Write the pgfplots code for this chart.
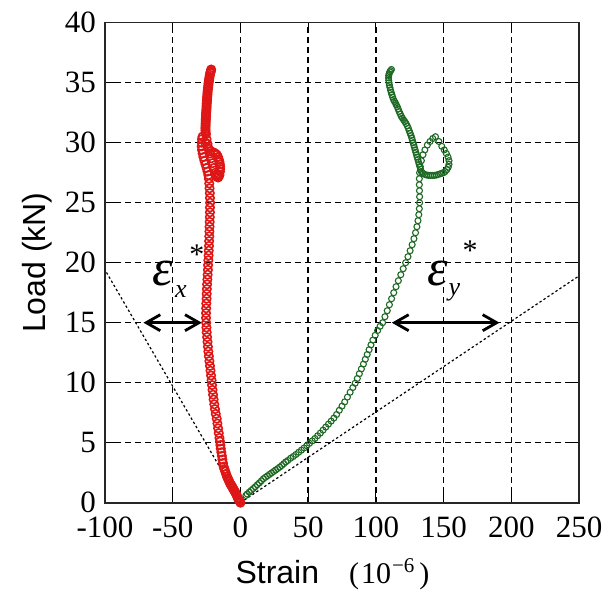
\documentclass[border=0pt]{standalone}
\usepackage{fontspec}
\setmainfont{Liberation Serif}
\setsansfont{Liberation Sans}
\usepackage{pgfplots}
\pgfplotsset{compat=1.18}
\usetikzlibrary{arrows.meta}
\definecolor{myred}{RGB}{222,22,22}
\definecolor{mygreen}{RGB}{30,105,35}
\begin{document}
\begin{tikzpicture}
\begin{axis}[name=ax, scale only axis, width=237pt, height=240pt,
 xmin=-100,xmax=250,ymin=0,ymax=40,
 xtick={-100,-50,0,50,100,150,200,250},
 xticklabels={-100,-50,0,50,100,150,200,250},
 ytick={0,5,10,15,20,25,30,35,40},
 yticklabels={0,5,10,15,20,25,30,35,40},
 tick align=inside, major tick length=5pt,
 tick style={black, line width=0.6pt},
 axis line style={line width=0.8pt, black!85},
 grid=major, major grid style={black, line width=0.65pt, dash pattern=on 3pt off 2pt},
 ticklabel style={font=\fontsize{15.5}{18}\selectfont},
 xticklabel style={yshift=-3.5pt},
 yticklabel style={xshift=-1pt},
]
% dotted reference lines
\addplot[black, line width=0.6pt, dash pattern=on 1.2pt off 1.2pt] coordinates {(0,0) (-100,19.4)};
\addplot[black, line width=0.6pt, dash pattern=on 1.2pt off 1.2pt] coordinates {(0,0) (250,18.9)};
% red series (eps_x)
\addplot[only marks, mark=o, mark size=2.1pt, mark options={myred, line width=0.8pt}] coordinates {
(0,0) (-0.5,0.1) (-1,0.2) (-1.5,0.3) (-2,0.4) (-2.5,0.55) (-3,0.7) (-3.5,0.8) (-4,0.9) (-4.5,1.0)
(-5,1.1) (-5.5,1.2) (-6,1.3) (-6.5,1.4) (-7,1.5) (-7.6,1.6) (-8.2,1.75) (-8.8,1.9) (-9.4,2.05) (-10,2.2)
(-10.6,2.4) (-11.2,2.6) (-11.8,2.8) (-12.4,3.0) (-12.9,3.3) (-13.3,3.6) (-13.7,3.9) (-14.1,4.2) (-14.5,4.5) (-14.8,4.8)
(-15.1,5.1) (-15.5,5.4) (-16,5.8) (-16.5,6.2) (-17,6.6) (-17.5,7.0) (-18.2,7.4) (-18.8,7.8) (-19.3,8.2) (-19.8,8.6)
(-20.2,9.0) (-20.6,9.4) (-21,9.8) (-21.3,10.2) (-21.7,10.6) (-22.1,11.0) (-22.5,11.4) (-22.9,11.8) (-23.3,12.2) (-23.7,12.6)
(-24,13.0) (-24.3,13.4) (-24.6,13.8) (-24.9,14.2) (-25.1,14.6) (-25.3,15.0) (-25.4,15.4) (-25.4,15.8) (-25.3,16.2) (-25.2,16.6)
(-25.0,17.0) (-24.9,17.4) (-24.8,17.8) (-24.6,18.2) (-24.4,18.6) (-24.2,19.0) (-24.0,19.4) (-23.9,19.8) (-23.7,20.2) (-23.5,20.6)
(-23.4,21.0) (-23.2,21.4) (-23.1,21.8) (-23.0,22.2) (-22.9,22.6) (-22.8,23.0) (-22.7,23.4) (-22.6,23.8) (-22.5,24.2) (-22.5,24.6)
(-22.4,25.0) (-22.5,25.4) (-22.6,25.8) (-22.8,26.2) (-23.0,26.6) (-23.3,27.0) (-23.7,27.3) (-24.3,27.6) (-25.0,27.9) (-25.8,28.2)
(-26.6,28.5) (-27.3,28.8) (-27.9,29.1) (-28.4,29.4) (-28.6,29.7) (-28.6,30.0) (-28.4,30.3) (-28.0,30.5)
(-26,30.0) (-24,29.6) (-22,29.3) (-20,29.2) (-18.5,29.1) (-17.5,29.0) (-16.5,28.8) (-16,28.6) (-15.5,28.4) (-15.2,28.2)
(-15,28.0) (-15,27.8) (-15.1,27.6) (-15.5,27.3) (-16,27.2) (-16.5,27.1) (-17,27.15) (-17.5,27.2) (-18,27.35) (-18.5,27.5)
(-19.5,27.9) (-20.5,28.3) (-21.5,28.7) (-22.5,29.1) (-23.5,29.5) (-24.3,29.9) (-25,30.3) (-25.5,30.7)
(-25.7,30.85) (-25.8,31.0) (-25.8,31.15) (-25.8,31.3) (-25.7,31.45) (-25.7,31.6) (-25.6,31.75) (-25.6,31.9) (-25.5,32.05) (-25.4,32.2)
(-25.4,32.35) (-25.3,32.5) (-25.2,32.65) (-25.1,32.8) (-25.0,32.95) (-25.0,33.1) (-24.9,33.25) (-24.8,33.4) (-24.7,33.55) (-24.6,33.7)
(-24.5,33.85) (-24.4,34.0) (-24.3,34.15) (-24.2,34.3) (-24.0,34.45) (-23.9,34.6) (-23.7,34.75) (-23.6,34.9) (-23.4,35.05) (-23.2,35.2)
(-23.0,35.35) (-22.8,35.5) (-22.6,35.65) (-22.3,35.8) (-22.0,35.9) (-21.8,36.0) (-21.6,36.1)
};
% green series (eps_y)
\addplot[only marks, mark=o, mark size=1.5pt, mark options={mygreen, line width=0.55pt}] coordinates {
(4,0.6) (5,0.72) (6.5,0.88) (8,1.03) (9.5,1.18) (11,1.33) (12.5,1.5) (14,1.65) (15.5,1.82) (17,2.0)
(18.5,2.12) (20,2.24) (21.5,2.36) (23,2.48) (24.5,2.6) (26,2.72) (27.5,2.84) (29,2.96) (30.5,3.1) (32,3.25)
(33.5,3.4) (35,3.52) (37,3.7) (39,3.85) (41,4.02) (43,4.2) (45,4.38) (47,4.56) (49,4.75) (51,4.95)
(53,5.15) (55,5.35) (57,5.58) (59,5.8) (61,6.05) (63,6.3) (65,6.55) (67,6.8) (69,7.05) (71,7.35)
(73,7.7) (75,8.05) (77,8.4) (79,8.8) (81,9.2) (83,9.6) (84.7,9.95) (86.3,10.35) (87.8,10.75) (89.3,11.15)
(90.8,11.55) (92.2,11.95) (93.6,12.35) (95,12.75) (96.4,13.15) (97.8,13.55) (99.5,13.95) (101.3,14.35) (103.1,14.7) (105,15.0)
(106.7,15.5) (108.4,16.0) (110,16.5) (111.6,17.0) (113.2,17.5) (114.9,18.0) (116.6,18.5) (118.4,19.0) (120.2,19.5) (122,20.0)
(123.7,20.5) (125.3,21.0) (126.8,21.5) (128.1,22.0) (129.3,22.5) (130.3,23.0) (131.1,23.5) (131.7,24.0) (132.1,24.5) (132.3,25.0)
(132.3,25.5) (132.2,26.0) (132.1,26.5) (132.1,27.0) (132.3,27.5) (132.8,28.0) (133.6,28.5) (134.8,29.0) (136.2,29.4) (138,29.8)
(140,30.1) (142,30.35) (144,30.5) (146.5,30.1)
(148.7,29.7) (150.5,29.4) (152,29.1) (153.3,28.8) (154,28.5) (154,28.2) (153.4,27.95) (152.4,27.75) (151.2,27.6) (150,27.5)
(148.7,27.45) (147.4,27.4) (146,27.35) (144.6,27.3) (143.2,27.28) (141.8,27.27) (140.4,27.27) (139,27.28) (137.6,27.3) (136.3,27.35)
(135,27.42) (134.2,27.5) (133.5,27.6)
(133,27.8) (132.5,28.0) (132,28.2) (131.5,28.4) (131,28.6) (130.5,28.8) (130,29.0) (129.5,29.2) (129,29.4) (128.5,29.6)
(128,29.8) (127.5,30.0) (127,30.2) (126.5,30.4) (125.9,30.6) (125.3,30.8) (124.6,31.0) (124,31.2) (123.2,31.4) (122.3,31.6)
(121.4,31.75) (120.5,31.9) (119.6,32.05) (118.8,32.2) (118,32.4) (117.2,32.6) (116.5,32.8) (115.8,33.0) (115.1,33.15) (114.5,33.3)
(113.7,33.45) (113,33.6) (112.4,33.8) (111.8,34.0) (111.3,34.2) (110.8,34.4) (110.4,34.6) (110,34.8) (109.7,35.0) (109.5,35.2)
(109.4,35.4) (109.5,35.6) (109.8,35.75) (110.3,35.9) (110.9,36.0) (111.5,36.1)
};
% double arrows
\addplot[black, line width=1.4pt, {Straight Barb[length=7pt,width=8pt]}-{Straight Barb[length=7pt,width=8pt]}] coordinates {(-71.6,15) (-28.5,15)};
\addplot[black, line width=1.4pt, {Straight Barb[length=7pt,width=8pt]}-{Straight Barb[length=7pt,width=8pt]}] coordinates {(111.8,15) (191.3,15)};
% labels
\node[inner sep=0, font=\itshape\fontsize{26}{28}\selectfont] at (axis cs:-57.6,19.06) {ε};
\node[inner sep=0, font=\itshape\fontsize{13}{15}\selectfont] at (axis cs:-44,17.6) {x};
\node[inner sep=0, font=\fontsize{15}{17}\selectfont] at (axis cs:-32.2,20.7) {*};
\node[inner sep=0, font=\itshape\fontsize{26}{28}\selectfont] at (axis cs:146,19.06) {ε};
\node[inner sep=0, font=\itshape\fontsize{13}{15}\selectfont] at (axis cs:158,17.5) {y};
\node[inner sep=0, font=\fontsize{15}{17}\selectfont] at (axis cs:169.6,21.0) {*};
\end{axis}
\path ([xshift=-52.5pt,yshift=-45.15pt]ax.south west) rectangle ([xshift=15pt,yshift=11.35pt]ax.north east);
\node[rotate=90, anchor=base, inner sep=0, font=\sffamily\fontsize{16}{19}\selectfont] at ([xshift=-29.5pt]ax.west) {Load (kN)};
\node[anchor=base, inner sep=0, font=\fontsize{16}{19}\selectfont] at ([xshift=-4.75pt,yshift=-40.3pt]ax.south) {\sffamily Strain\hspace{15pt}\rmfamily\fontsize{15}{17}\selectfont(\kern1pt10\kern0.5pt\textsuperscript{−6}\kern2pt)};
\end{tikzpicture}
\end{document}
